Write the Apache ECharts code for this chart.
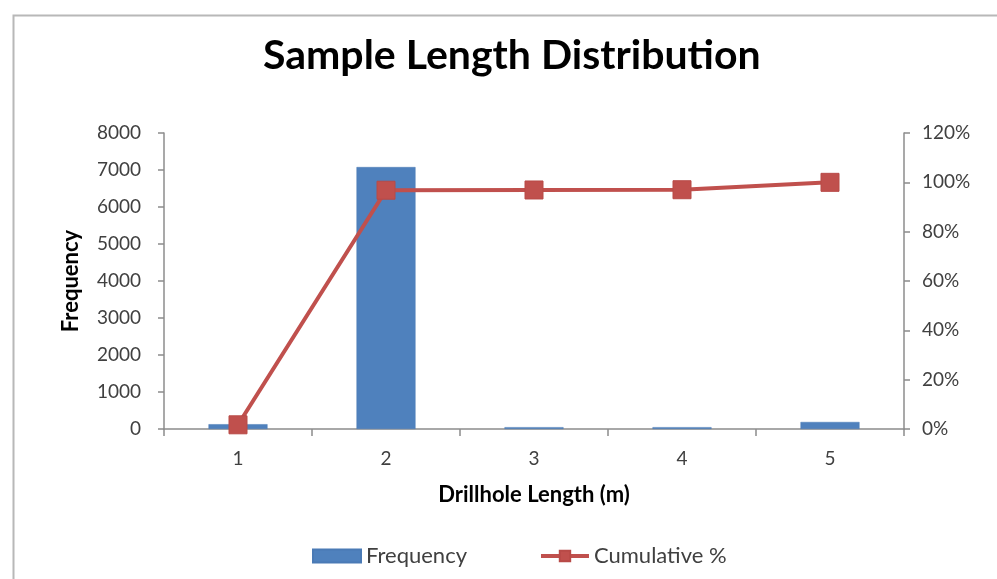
<!DOCTYPE html>
<html>
<head>
<meta charset="utf-8">
<script src="https://cdn.jsdelivr.net/npm/echarts@6/dist/echarts.min.js"></script>
<style>
  html, body { margin: 0; padding: 0; background: #fff; }
  #chart { width: 997px; height: 579px; }
</style>
</head>
<body>
<div id="chart"></div>
<script>
// Drillhole sample lengths (m) and how many samples fall in each
const lengths = ['1', '2', '3', '4', '5'];
const frequency = [130, 7080, 50, 50, 190];
const cumulativePct = [1.7, 96.8, 96.9, 97.0, 100];

const freqTicks = { min: 0, max: 8000, interval: 1000 };
const pctTicks = { min: 0, max: 120, interval: 20 };

const FONT = 'Lato, "Open Sans", sans-serif';
const TEXT = '#404040';
const AXIS = '#8c8c8c';

const chart = echarts.init(document.getElementById('chart'), null, { renderer: 'canvas' });

chart.setOption({
  backgroundColor: '#ffffff',
  animation: false,
  textStyle: { fontFamily: FONT },
  graphic: [{
    type: 'rect',
    left: 11, top: 13,
    shape: { width: 1000, height: 600 },
    style: { fill: 'none', stroke: '#b8b8b8', lineWidth: 2 },
    silent: true, z: -10
  }],
  title: {
    text: 'Sample Length Distribution',
    left: 258,
    top: 30,
    textStyle: { fontFamily: FONT, fontSize: 41, fontWeight: 'bold', color: '#000' }
  },
  legend: {
    bottom: 7,
    left: 307,
    itemGap: 72,
    itemWidth: 48,
    itemHeight: 13,
    textStyle: { fontFamily: FONT, fontSize: 22, color: TEXT },
    data: [
      { name: 'Frequency', icon: 'rect' },
      { name: 'Cumulative %', lineStyle: { width: 4 } }
    ]
  },
  grid: { left: 164, right: 93, top: 133, bottom: 150, containLabel: false },
  xAxis: {
    type: 'category',
    data: lengths,
    name: 'Drillhole Length (m)',
    nameLocation: 'middle',
    nameGap: 55,
    nameTextStyle: { fontFamily: FONT, fontSize: 22, fontWeight: 'bold', color: '#000' },
    axisLine: { lineStyle: { color: AXIS, width: 1.5 } },
    axisTick: { show: true, length: 7, interval: 0, lineStyle: { color: AXIS, width: 1.5 } },
    axisLabel: { fontFamily: FONT, fontSize: 19, color: TEXT, margin: 20 }
  },
  yAxis: [{
    type: 'value',
    position: 'left',
    min: freqTicks.min, max: freqTicks.max, interval: freqTicks.interval,
    name: 'Frequency',
    nameLocation: 'middle',
    nameRotate: 90,
    nameGap: 82,
    nameTextStyle: { fontFamily: FONT, fontSize: 22, fontWeight: 'bold', color: '#000' },
    splitLine: { show: false },
    axisLine: { show: true, lineStyle: { color: AXIS, width: 1.5 } },
    axisTick: { show: true, length: 6, lineStyle: { color: AXIS, width: 1.5 } },
    axisLabel: { fontFamily: FONT, fontSize: 19, color: TEXT, margin: 23, formatter: (v) => String(v) }
  }, {
    type: 'value',
    position: 'right',
    min: pctTicks.min, max: pctTicks.max, interval: pctTicks.interval,
    splitLine: { show: false },
    axisLine: { show: true, lineStyle: { color: AXIS, width: 1.5 } },
    axisTick: { show: true, length: 6, lineStyle: { color: AXIS, width: 1.5 } },
    axisLabel: { fontFamily: FONT, fontSize: 19, color: TEXT, margin: 18, formatter: '{value}%' }
  }],
  series: [{
    name: 'Frequency',
    type: 'bar',
    yAxisIndex: 0,
    data: frequency,
    barWidth: 59,
    itemStyle: { color: '#4f81bd', borderColor: '#4a7ab5', borderWidth: 0.5 }
  }, {
    name: 'Cumulative %',
    type: 'line',
    yAxisIndex: 1,
    data: cumulativePct,
    symbol: 'rect',
    symbolSize: 18,
    lineStyle: { color: '#c0504d', width: 4 },
    itemStyle: { color: '#c0504d', borderColor: '#b84a47', borderWidth: 1 },
    z: 5
  }]
});
</script>
</body>
</html>
